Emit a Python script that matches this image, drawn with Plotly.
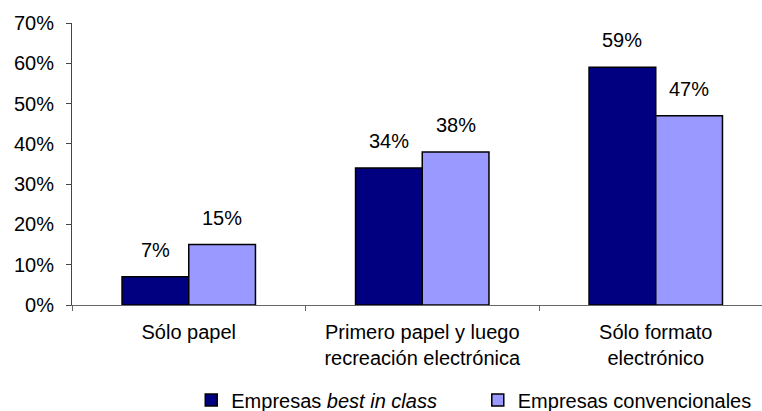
import plotly.graph_objects as go

categories = ["Sólo papel", "Primero papel y luego<br>recreación electrónica", "Sólo formato<br>electrónico"]
best_in_class = [0.07, 0.34, 0.59]
convencionales = [0.15, 0.38, 0.47]
series_names = ["Empresas <i>best in class</i>", "Empresas convencionales"]
y_ticks = [0, 0.1, 0.2, 0.3, 0.4, 0.5, 0.6, 0.7]
y_tick_labels = ["0%", "10%", "20%", "30%", "40%", "50%", "60%", "70%"]

FONT = "Liberation Sans, Arial, sans-serif"
FS = 20
DARK = "#000080"
LIGHT = "#9999FF"

fig = go.Figure()
fig.add_trace(go.Bar(x=categories, y=best_in_class, name=series_names[0], legend="legend",
                     marker=dict(color=DARK, line=dict(color="black", width=1.5))))
fig.add_trace(go.Bar(x=categories, y=convencionales, name=series_names[1], legend="legend2",
                     marker=dict(color=LIGHT, line=dict(color="black", width=1.5))))

# value labels above each bar
bar_half = 0.1429
for i, (a, b) in enumerate(zip(best_in_class, convencionales)):
    for off, v in ((-bar_half, a), (bar_half, b)):
        fig.add_annotation(x=i + off, y=v, text=f"{round(v * 100)}%", showarrow=False,
                           yanchor="bottom", yshift=14, font=dict(size=FS, color="black", family=FONT))

legend_common = dict(orientation="h", yref="container", y=0.027, yanchor="middle",
                     xref="container", xanchor="left", font=dict(size=FS),
                     bgcolor="rgba(0,0,0,0)")
fig.update_layout(
    width=762, height=411,
    margin=dict(l=72, r=0, t=23, b=106, autoexpand=False),
    paper_bgcolor="white", plot_bgcolor="white",
    barmode="group", bargap=0.4286, bargroupgap=0,
    font=dict(family=FONT, size=FS, color="black"),
    showlegend=True,
    legend=dict(x=0.251, **legend_common),
    legend2=dict(x=0.627, **legend_common),
)
fig.update_xaxes(type="category", range=[-0.5, 2.455], tickson="boundaries",
                 ticks="outside", ticklen=5, tickcolor="#666", showline=True,
                 linecolor="#666", linewidth=1, showgrid=False, ticklabelstandoff=9,
                 tickfont=dict(size=FS))
fig.update_yaxes(range=[0, 0.70], tickvals=y_ticks, ticktext=y_tick_labels,
                 ticks="outside", ticklen=5, tickcolor="#444", showline=True,
                 linecolor="#444", linewidth=1, showgrid=False, zeroline=False,
                 ticklabelstandoff=8, tickfont=dict(size=FS))

fig.write_html("out.html")
